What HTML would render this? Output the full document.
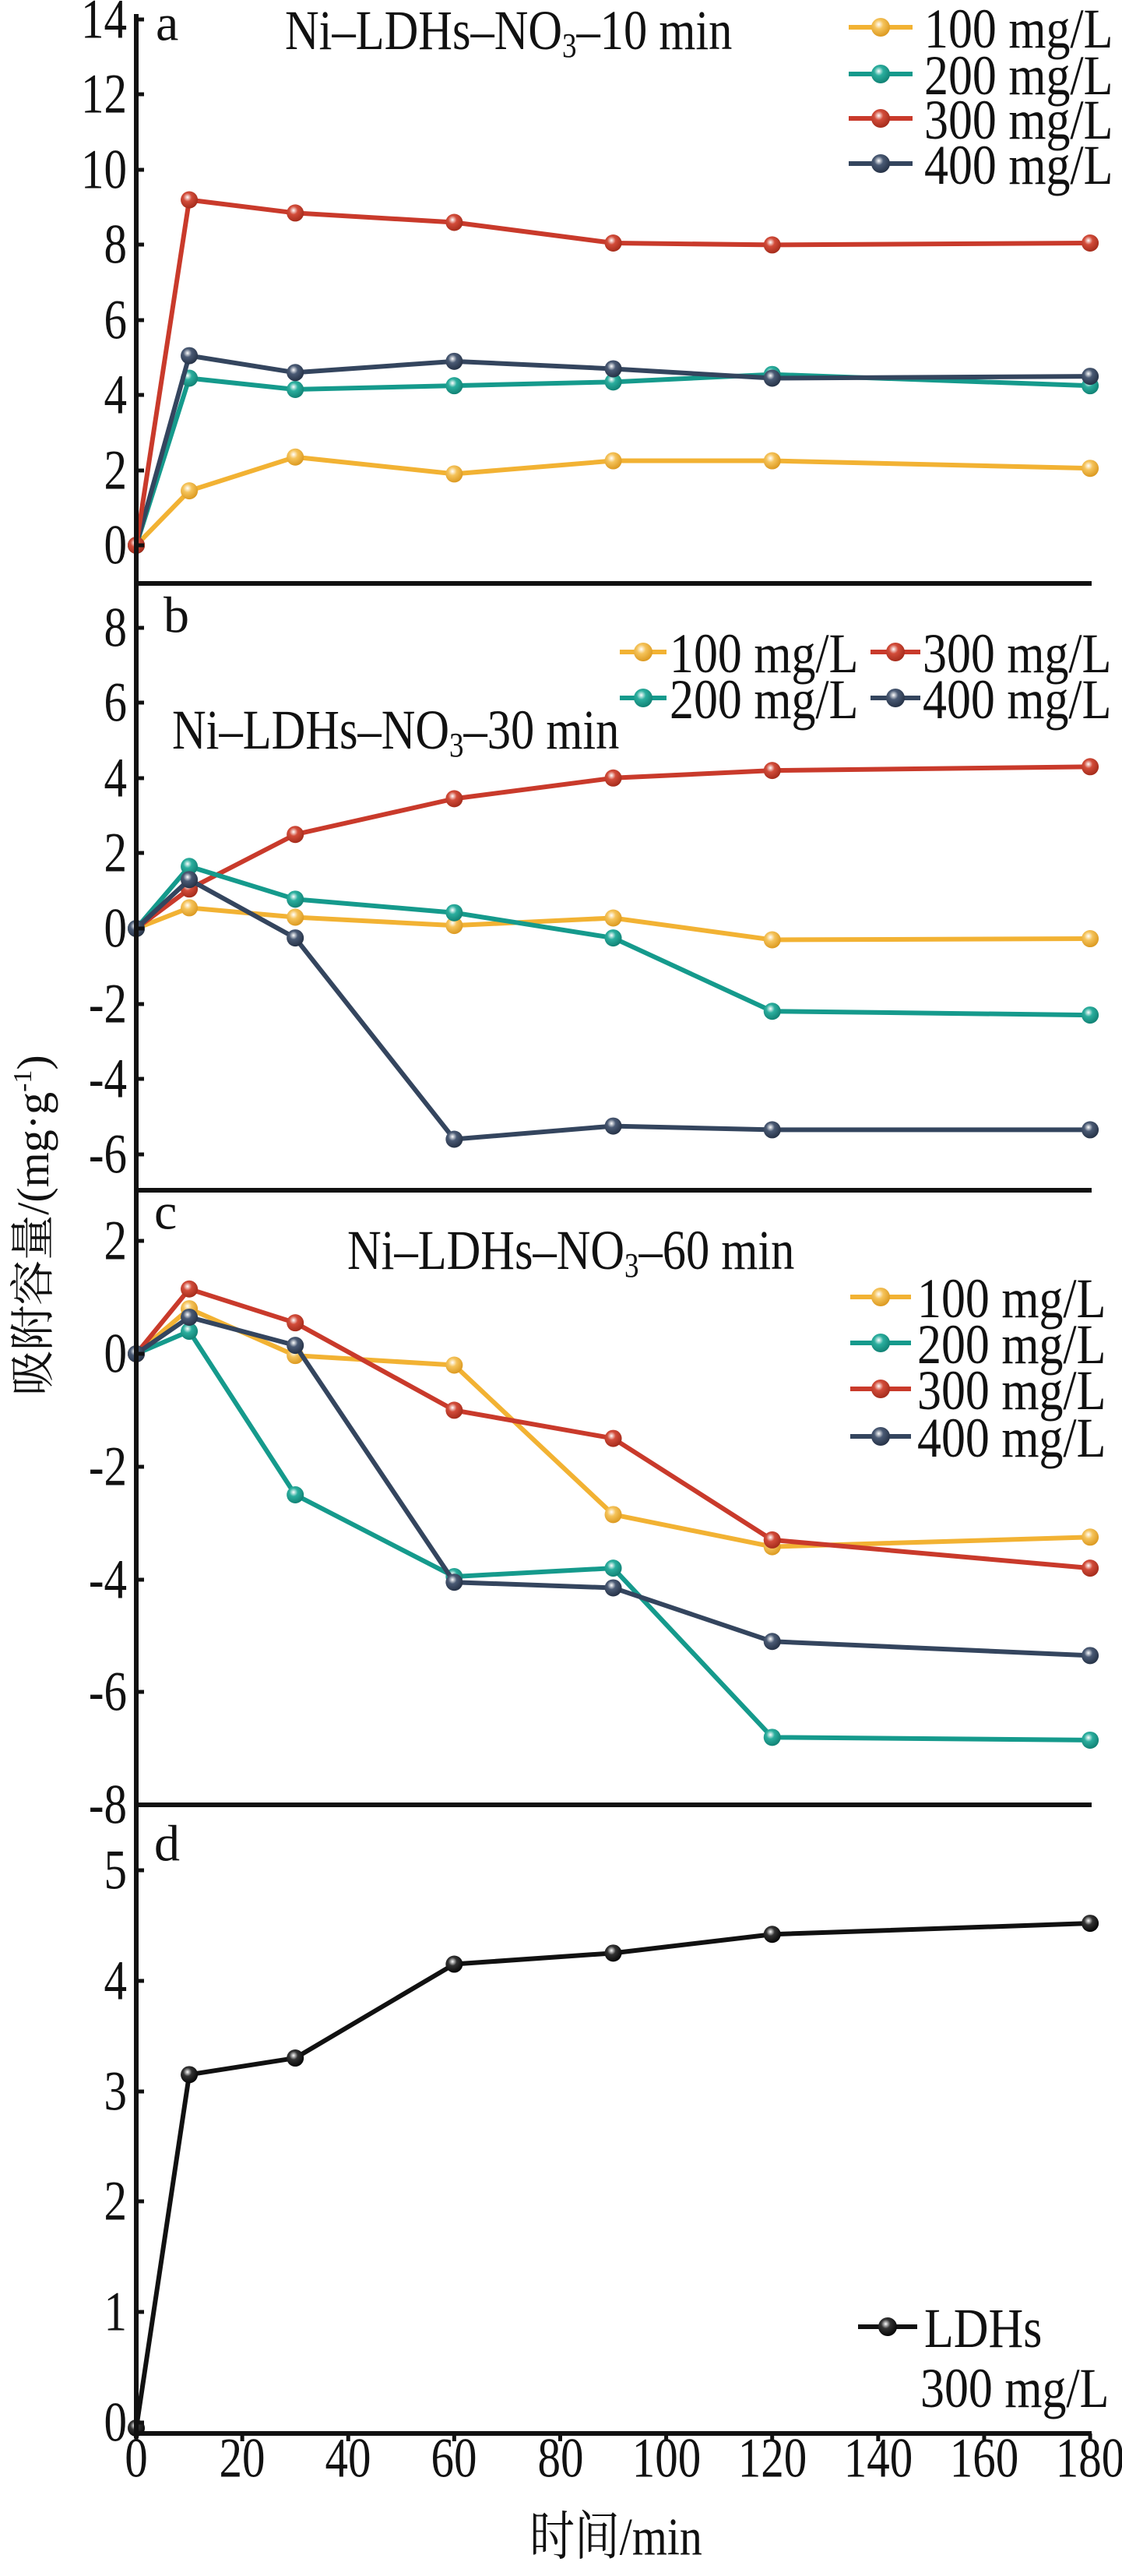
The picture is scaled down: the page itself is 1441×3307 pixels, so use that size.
<!DOCTYPE html>
<html><head><meta charset="utf-8"><style>
html,body{margin:0;padding:0;background:#fff;}
svg{display:block;}
text{font-family:"Liberation Serif","Noto Serif CJK SC",serif;fill:#111;}
</style></head><body>
<svg id="s" width="1441" height="3307" viewBox="0 0 1441 3307" xmlns="http://www.w3.org/2000/svg">
<defs>
<radialGradient id="gy" cx="0.4" cy="0.35" r="0.7"><stop offset="0" stop-color="#fff"/><stop offset="0.35" stop-color="#F5C35A"/><stop offset="1" stop-color="#D9951A"/></radialGradient>
<radialGradient id="gt" cx="0.4" cy="0.35" r="0.7"><stop offset="0" stop-color="#fff"/><stop offset="0.35" stop-color="#2BAE9E"/><stop offset="1" stop-color="#0E7D70"/></radialGradient>
<radialGradient id="gr" cx="0.4" cy="0.35" r="0.7"><stop offset="0" stop-color="#fff"/><stop offset="0.35" stop-color="#D24C3A"/><stop offset="1" stop-color="#A02818"/></radialGradient>
<radialGradient id="gn" cx="0.4" cy="0.35" r="0.7"><stop offset="0" stop-color="#fff"/><stop offset="0.35" stop-color="#4A5A74"/><stop offset="1" stop-color="#222E42"/></radialGradient>
<radialGradient id="gk" cx="0.4" cy="0.35" r="0.7"><stop offset="0" stop-color="#fff"/><stop offset="0.35" stop-color="#333"/><stop offset="1" stop-color="#000"/></radialGradient>
</defs>
<g id="plot"></g>
<rect x="172" y="18" width="6" height="3112" fill="#111"/>
<rect x="172" y="746" width="1230" height="6" fill="#111"/>
<rect x="172" y="1525" width="1230" height="6" fill="#111"/>
<rect x="172" y="2314" width="1230" height="6" fill="#111"/>
<rect x="172" y="3121" width="1230" height="6" fill="#111"/>
<g transform="translate(163,0) scale(0.82,1)" font-size="72" text-anchor="end" dominant-baseline="central">
<text x="0" y="25">14</text><text x="0" y="121">12</text><text x="0" y="218">10</text><text x="0" y="314">8</text><text x="0" y="411">6</text><text x="0" y="507">4</text><text x="0" y="604">2</text><text x="0" y="700">0</text>
<text x="0" y="806">8</text><text x="0" y="902">6</text><text x="0" y="999">4</text><text x="0" y="1095">2</text><text x="0" y="1192">0</text><text x="0" y="1289">-2</text><text x="0" y="1385">-4</text><text x="0" y="1482">-6</text>
<text x="0" y="1593">2</text><text x="0" y="1738">0</text><text x="0" y="1883">-2</text><text x="0" y="2028">-4</text><text x="0" y="2172">-6</text><text x="0" y="2317">-8</text>
<text x="0" y="2401">5</text><text x="0" y="2543">4</text><text x="0" y="2685">3</text><text x="0" y="2826">2</text><text x="0" y="2968">1</text><text x="0" y="3110">0</text>
</g>
<g font-size="72" text-anchor="middle" dominant-baseline="central">
<text transform="translate(175,3156) scale(0.82,1)">0</text><text transform="translate(311,3156) scale(0.82,1)">20</text><text transform="translate(447,3156) scale(0.82,1)">40</text><text transform="translate(583,3156) scale(0.82,1)">60</text><text transform="translate(720,3156) scale(0.82,1)">80</text><text transform="translate(856,3156) scale(0.82,1)">100</text><text transform="translate(992,3156) scale(0.82,1)">120</text><text transform="translate(1128,3156) scale(0.82,1)">140</text><text transform="translate(1264,3156) scale(0.82,1)">160</text><text transform="translate(1400,3156) scale(0.82,1)">180</text>
<text transform="translate(791,3257) scale(0.85,1)" font-size="68">时间/min</text>
</g>
<text transform="translate(62,1573) rotate(-90)" font-size="58" text-anchor="middle">吸附容量/(mg·g<tspan font-size="34" dy="-22">-1</tspan><tspan dy="22">)</tspan></text>
<g font-size="66" dominant-baseline="central">
<text x="200" y="30">a</text><text x="210" y="790">b</text><text x="198" y="1556">c</text><text x="198" y="2367">d</text>
</g>
<g font-size="72">
<text transform="translate(366,63) scale(0.84,1)">Ni–LDHs–NO<tspan font-size="44" dy="10">3</tspan><tspan dy="-10">–10 min</tspan></text>
<text transform="translate(221,961) scale(0.84,1)">Ni–LDHs–NO<tspan font-size="44" dy="10">3</tspan><tspan dy="-10">–30 min</tspan></text>
<text transform="translate(446,1629) scale(0.84,1)">Ni–LDHs–NO<tspan font-size="44" dy="10">3</tspan><tspan dy="-10">–60 min</tspan></text>
</g>
<g font-size="72" dominant-baseline="central">
<text transform="translate(1187,37) scale(0.86,1)">100 mg/L</text><text transform="translate(1187,97) scale(0.86,1)">200 mg/L</text><text transform="translate(1187,154) scale(0.86,1)">300 mg/L</text><text transform="translate(1187,212) scale(0.86,1)">400 mg/L</text>
<text transform="translate(860,839) scale(0.86,1)">100 mg/L</text><text transform="translate(860,898) scale(0.86,1)">200 mg/L</text><text transform="translate(1185,839) scale(0.86,1)">300 mg/L</text><text transform="translate(1185,898) scale(0.86,1)">400 mg/L</text>
<text transform="translate(1178,1667) scale(0.86,1)">100 mg/L</text><text transform="translate(1178,1726) scale(0.86,1)">200 mg/L</text><text transform="translate(1178,1785) scale(0.86,1)">300 mg/L</text><text transform="translate(1178,1846) scale(0.86,1)">400 mg/L</text>
<text transform="translate(1187,2989) scale(0.86,1)">LDHs</text><text transform="translate(1182,3066) scale(0.86,1)">300 mg/L</text>
</g>
</svg>
<script>
var NS="http://www.w3.org/2000/svg",g=document.getElementById("plot");
function el(n,a){var e=document.createElementNS(NS,n);for(var k in a)e.setAttribute(k,a[k]);g.appendChild(e);return e;}
var C={y:["#F2B233","gy"],t:["#159A8C","gt"],r:["#C93A2B","gr"],n:["#34455E","gn"],k:["#111","gk"]};
var T=[0,10,30,60,90,120,180];function X(t){return 175+t*6.806;}
function series(c,vals,Y){var p=[];for(var i=0;i<vals.length;i++)p.push(X(T[i])+","+Y(vals[i]));
el("polyline",{points:p.join(" "),fill:"none",stroke:C[c][0],"stroke-width":6,"stroke-linejoin":"round"});
for(var i=0;i<vals.length;i++)el("circle",{cx:X(T[i]),cy:Y(vals[i]),r:11,fill:"url(#"+C[c][1]+")"});}
function leg(c,x1,x2,y){el("line",{x1:x1,x2:x2,y1:y,y2:y,stroke:C[c][0],"stroke-width":6});el("circle",{cx:(x1+x2)/2,cy:y,r:12,fill:"url(#"+C[c][1]+")"});}
var Ya=function(v){return 700-v*48.2},Yb=function(v){return 1192-v*48.3},Yc=function(v){return 1738-v*72.4},Yd=function(v){return 3110-v*141.8};
series("y",[0,1.45,2.35,1.9,2.25,2.25,2.05],Ya);
series("t",[0,4.45,4.15,4.25,4.35,4.55,4.25],Ya);
series("n",[0,5.05,4.6,4.9,4.7,4.45,4.5],Ya);
series("r",[0,9.2,8.85,8.6,8.05,8.0,8.05],Ya);
series("y",[0,0.55,0.3,0.08,0.28,-0.3,-0.27],Yb);
series("r",[0,1.05,2.5,3.45,4.0,4.2,4.3],Yb);
series("t",[0,1.65,0.78,0.42,-0.25,-2.2,-2.3],Yb);
series("n",[0,1.3,-0.25,-5.6,-5.25,-5.35,-5.35],Yb);
series("y",[0,0.8,-0.03,-0.2,-2.85,-3.42,-3.25],Yc);
series("t",[0,0.4,-2.5,-3.95,-3.8,-6.8,-6.85],Yc);
series("r",[0,1.15,0.55,-1.0,-1.5,-3.3,-3.8],Yc);
series("n",[0,0.65,0.15,-4.05,-4.15,-5.1,-5.35],Yc);
series("k",[-0.05,3.15,3.3,4.15,4.25,4.42,4.52],Yd);
leg("y",1090,1172,35);leg("t",1090,1172,95);leg("r",1090,1172,152);leg("n",1090,1172,210);
leg("y",796,856,837);leg("t",796,856,896);leg("r",1118,1182,837);leg("n",1118,1182,896);
leg("y",1092,1170,1665);leg("t",1092,1170,1724);leg("r",1092,1170,1783);leg("n",1092,1170,1844);
leg("k",1102,1178,2987);
function ty(ys){ys.forEach(function(y){el("rect",{x:175,y:y-2.5,width:10,height:5,fill:"#111"});});}
ty([25,121,218,314,411,507,604,700,806,902,999,1095,1192,1289,1385,1482,1593,1738,1883,2028,2172,2401,2543,2685,2826,2968,3110]);
for(var t=0;t<=180;t+=20)el("rect",{x:X(t)-2.5,y:3124,width:5,height:10,fill:"#111"});
</script>
</body></html>
